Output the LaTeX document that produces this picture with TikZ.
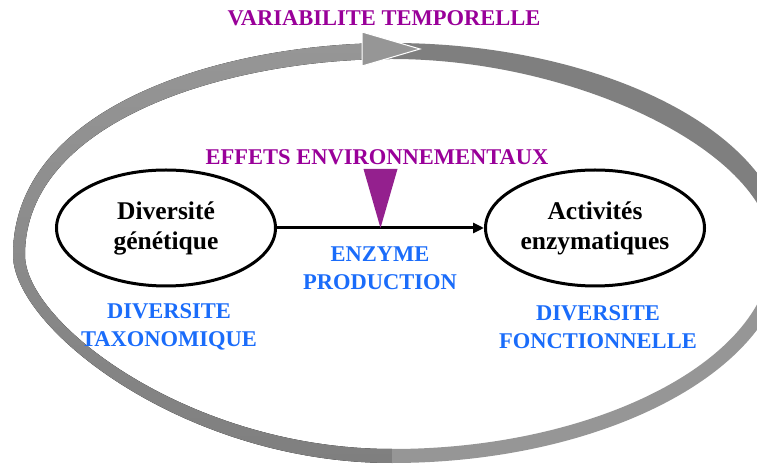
\documentclass[tikz,border=0pt]{standalone}
\usepackage{fontspec}
\setmainfont{Liberation Serif}
\usetikzlibrary{arrows.meta,shapes.geometric,calc}

\definecolor{prune}{RGB}{153,0,153}
\definecolor{pruneclair}{RGB}{148,32,142}
\definecolor{bleu}{RGB}{26,108,250}
\definecolor{grisclair}{RGB}{150,150,150}
\definecolor{grisfonce}{RGB}{127,127,127}

\begin{document}
\begin{tikzpicture}[
    x=1pt,y=1pt,
    >={Triangle[length=11pt,width=10pt]},
    bulle/.style={
        ellipse,
        draw,
        line width=3pt,
        minimum width=219pt,
        minimum height=116pt,
        inner sep=0pt,
        align=center,
        font=\fontsize{25.5}{30}\selectfont\bfseries
    },
    titre/.style={
        text=prune,
        font=\fontsize{22.5}{27}\selectfont\bfseries
    },
    legende/.style={
        text=bleu,
        align=center,
        font=\fontsize{22.5}{28}\selectfont\bfseries
    },
    production/.style={
        ->,
        line width=3pt
    }
    ]
    \useasboundingbox (0,0) rectangle (757,463);
    \clip (0,0) rectangle (757,463);

    % ruban du temps : moitie gauche, haut droit, bas droit
    \fill[top color=grisclair,bottom color=grisfonce]
        (392,0) .. controls (184,0) and (13,135) .. (13,208)
        .. controls (13,356) and (221,420) .. (392,420) -- (392,404)
        .. controls (227,404) and (25,342) .. (25,208)
        .. controls (25,140) and (190,14) .. (392,14) -- cycle;
    \fill[grisfonce]
        (392,420) .. controls (605,420) and (786,327) .. (786,213) -- (772,213)
        .. controls (772,309) and (578,404) .. (392,404) -- cycle;
    \fill[grisclair]
        (786,213) .. controls (786,95) and (606,0) .. (392,0) -- (392,14)
        .. controls (597,14) and (772,104) .. (772,213) -- cycle;
    \filldraw[fill=grisclair,draw=white,line width=1pt] (362,431) -- (420,414) -- (362,397) -- cycle;

    \node[titre] (temps) at (384,445) {VARIABILITE TEMPORELLE};
    \node[titre] (effets) at (377,306) {EFFETS ENVIRONNEMENTAUX};

    \node[bulle] (genet) at (166,235) {Diversité\\génétique};
    \node[bulle] (activ) at (595,235) {Activités\\enzymatiques};

    \draw[production] (genet) -- (activ);
    \coordinate (pointe) at ($(genet.east)!0.5!(activ.west)$);
    \fill[pruneclair] (pointe) -- ++(-17,59) -- ++(34,0) -- cycle;

    \node[legende] (enzyme) at (380,195) {ENZYME\\PRODUCTION};
    \node[legende] (taxo) at (169,136) {DIVERSITE\\TAXONOMIQUE};
    \node[legende] (fonct) at (598,136) {DIVERSITE\\FONCTIONNELLE};
\end{tikzpicture}
\end{document}
